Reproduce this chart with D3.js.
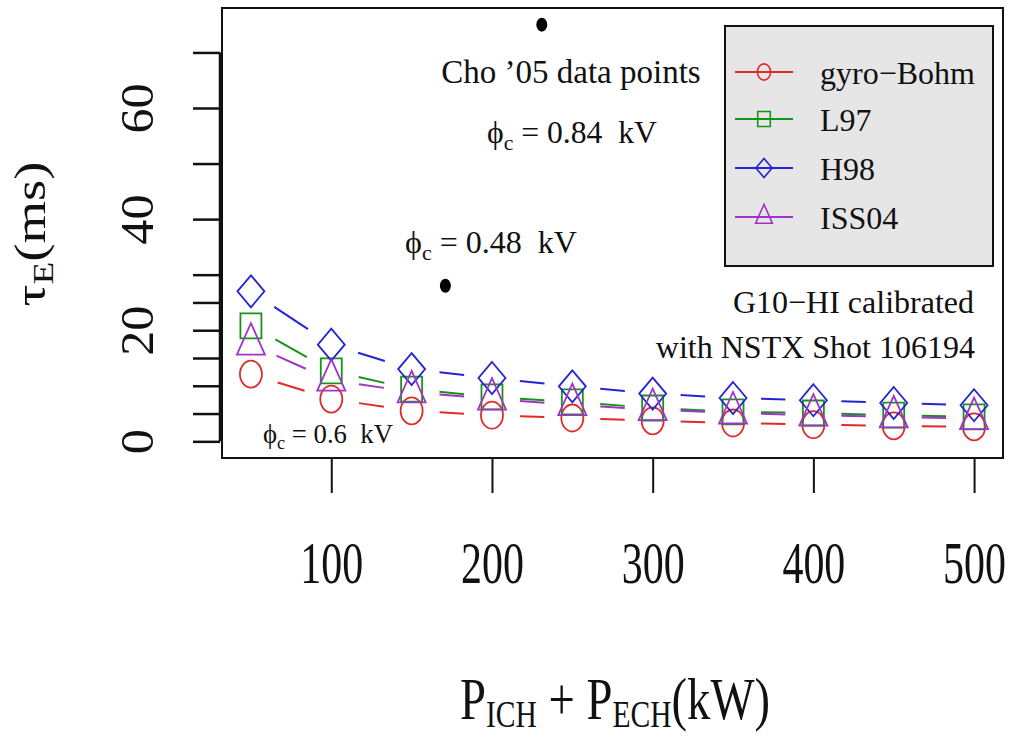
<!DOCTYPE html>
<html>
<head>
<meta charset="utf-8">
<script src="https://cdn.jsdelivr.net/npm/d3@7"></script>
<style>
  body { margin: 0; background: #fff; }
  svg { display: block; }
  text { white-space: pre; }
</style>
</head>
<body>
<svg id="chart" width="1013" height="737"></svg>
<script>
// Input power (kW) at which each confinement-time scaling was evaluated
const power = [50, 100, 150, 200, 250, 300, 350, 400, 450, 500];

// Energy confinement time tau_E (ms) for each scaling law
const gyroBohm = [12.1, 7.6, 5.5, 4.7, 4.2, 3.7, 3.3, 3.0, 2.8, 2.6];
const l97      = [20.8, 12.7, 9.4, 8.0, 7.1, 6.0, 5.3, 5.1, 4.7, 4.4];
const h98      = [27.0, 17.4, 13.0, 11.4, 9.9, 8.6, 7.8, 7.4, 6.9, 6.5];
const iss04    = [17.5, 11.0, 8.9, 7.6, 6.6, 5.7, 5.1, 4.7, 4.4, 4.1];

// Cho '05 measured points
const choPower = [171, 231];
const choTau   = [28, 75];

// Axis ticks
const xTicks = [100, 200, 300, 400, 500];
const yTicks = [0, 5, 10, 15, 20, 25, 30, 40, 50, 60, 70];
const yTickLabels = [0, 20, 40, 60];

const seriesNames  = ["gyro\u2212Bohm", "L97", "H98", "ISS04"];
const seriesValues = [gyroBohm, l97, h98, iss04];
const seriesColors = ["#e02a2a", "#16941a", "#2424d4", "#a034c8"];
const seriesShapes = ["circle", "square", "diamond", "triangle"];

const SERIF = "'Liberation Serif', 'Times New Roman', serif";
const svg = d3.select("#chart");

const x = d3.scaleLinear().domain([32, 518]).range([222, 1003]);
const y = d3.scaleLinear().domain([-3, 78]).range([458, 8]);

// Marker outlines; symbols are slightly taller than wide
function shapePath(shape, k) {
  switch (shape) {
    case "circle": {
      const rx = 11 * k, ry = 13.5 * k;
      return `M${-rx},0A${rx},${ry} 0 1,0 ${rx},0A${rx},${ry} 0 1,0 ${-rx},0Z`;
    }
    case "square": {
      const hx = 10.5 * k, hy = 12.5 * k;
      return `M${-hx},${-hy}H${hx}V${hy}H${-hx}Z`;
    }
    case "diamond": {
      const hx = 13.5 * k, hy = 16 * k;
      return `M0,${-hy}L${hx},0L0,${hy}L${-hx},0Z`;
    }
    case "triangle": {
      const a = 21 * k, b = 14 * k, c = 10.5 * k;
      return `M0,${-a}L${b},${c}L${-b},${c}Z`;
    }
  }
}

// Plot frame
svg.append("rect")
  .attr("x", x(32)).attr("y", y(78))
  .attr("width", x(518) - x(32)).attr("height", y(-3) - y(78))
  .attr("fill", "none").attr("stroke", "#111").attr("stroke-width", 2);

// X axis
const xAxis = svg.append("g")
  .attr("transform", `translate(0,${y(-3)})`)
  .call(d3.axisBottom(x).tickValues(xTicks).tickSize(35).tickSizeOuter(0));
xAxis.select(".domain").remove();
xAxis.selectAll(".tick line").attr("stroke", "#111").attr("stroke-width", 2);
xAxis.selectAll(".tick text")
  .attr("font-family", SERIF).attr("font-size", 60).attr("fill", "#111")
  .attr("y", 125).attr("dy", 0)
  .attr("transform", "scale(0.7,1)");
svg.append("line")
  .attr("x1", x(xTicks[0])).attr("x2", x(xTicks[xTicks.length - 1]))
  .attr("y1", y(-3)).attr("y2", y(-3))
  .attr("stroke", "#111").attr("stroke-width", 2);

// Y axis
const yAxis = svg.append("g")
  .attr("transform", "translate(220,0)")
  .call(d3.axisLeft(y).tickValues(yTicks).tickSize(27).tickSizeOuter(0)
    .tickFormat(d => yTickLabels.includes(d) ? d : ""));
yAxis.select(".domain").remove();
yAxis.selectAll(".tick line").attr("stroke", "#111").attr("stroke-width", 2.5);
yAxis.selectAll(".tick text")
  .attr("font-family", SERIF).attr("font-size", 46).attr("fill", "#111")
  .attr("text-anchor", "middle")
  .attr("x", 0).attr("y", -67).attr("dy", 0)
  .attr("transform", "rotate(-90) scale(1.09,1)");
svg.append("line")
  .attr("x1", 220).attr("x2", 220)
  .attr("y1", y(yTicks[0])).attr("y2", y(yTicks[yTicks.length - 1]))
  .attr("stroke", "#111").attr("stroke-width", 2.5);

// Series: broken connecting lines (gap around each marker) plus markers
const GAP = 28;
seriesValues.forEach((vals, si) => {
  const pts = power.map((p, i) => [x(p), y(vals[i])]);
  const g = svg.append("g");
  for (let i = 0; i < pts.length - 1; i++) {
    const [x0, y0] = pts[i], [x1, y1] = pts[i + 1];
    const dx = x1 - x0, dy = y1 - y0, len = Math.hypot(dx, dy);
    if (len <= 2 * GAP) continue;
    const ux = dx / len, uy = dy / len;
    g.append("line")
      .attr("x1", x0 + ux * GAP).attr("y1", y0 + uy * GAP)
      .attr("x2", x1 - ux * GAP).attr("y2", y1 - uy * GAP)
      .attr("stroke", seriesColors[si]).attr("stroke-width", 2);
  }
  g.selectAll("path.pt").data(pts).join("path")
    .attr("class", "pt")
    .attr("transform", d => `translate(${d[0]},${d[1]})`)
    .attr("d", shapePath(seriesShapes[si], 1))
    .attr("fill", "none").attr("stroke", seriesColors[si]).attr("stroke-width", 1.8);
});

// Cho '05 data points
svg.selectAll("ellipse.cho").data(choPower.map((p, i) => [p, choTau[i]])).join("ellipse")
  .attr("class", "cho")
  .attr("cx", d => x(d[0])).attr("cy", d => y(d[1]))
  .attr("rx", 5.5).attr("ry", 7).attr("fill", "#000");

// Text with optional subscripts, stretched horizontally to a target width
function richText(parent, parts, size, subSize, subDy) {
  const t = parent.append("text")
    .attr("font-family", SERIF).attr("font-size", size).attr("fill", "#111")
    .attr("text-anchor", "middle");
  let off = 0;
  parts.forEach(p => {
    const target = p.sub ? subDy : 0;
    const ts = t.append("tspan").text(p.t).attr("dy", target - off);
    if (p.sub) ts.attr("font-size", subSize);
    off = target;
  });
  return t;
}
function placeText(parts, opt) {
  const g = svg.append("g");
  const t = richText(g, parts, opt.size, opt.subSize || opt.size * 0.7, opt.subDy || opt.size * 0.2);
  const w = t.node().getComputedTextLength();
  const sx = opt.width ? opt.width / w : 1;
  const cx = opt.right !== undefined ? opt.right - (w * sx) / 2 : opt.cx;
  const rot = opt.rotate ? ` rotate(${opt.rotate})` : "";
  g.attr("transform", `translate(${cx},${opt.baseline})${rot} scale(${sx},1)`);
  return t;
}
const phi = "\u03D5";

placeText([{ t: "Cho \u201905 data points" }], { cx: 571, baseline: 83, size: 33 });
placeText([{ t: phi }, { t: "c", sub: true }, { t: " = 0.84  kV" }],
  { cx: 572, baseline: 143, size: 32, width: 170, subSize: 22, subDy: 7 });
placeText([{ t: phi }, { t: "c", sub: true }, { t: " = 0.48  kV" }],
  { cx: 491, baseline: 253, size: 32, width: 172, subSize: 22, subDy: 7 });
placeText([{ t: phi }, { t: "c", sub: true }, { t: " = 0.6  kV" }],
  { cx: 328, baseline: 443, size: 28, width: 130, subSize: 19, subDy: 6 });
placeText([{ t: "G10\u2212HI calibrated" }], { right: 974, baseline: 313, size: 32 });
placeText([{ t: "with NSTX Shot 106194" }], { right: 975, baseline: 358, size: 32 });

// Axis titles
placeText([{ t: "P" }, { t: "ICH", sub: true }, { t: " + P" }, { t: "ECH", sub: true }, { t: "(kW)" }],
  { cx: 615, baseline: 719, size: 60, width: 310, subSize: 38, subDy: 8 });
placeText([{ t: "\u03C4" }, { t: "E", sub: true }, { t: "(ms)" }],
  { cx: 45, baseline: 234, size: 44, width: 145, subSize: 30, subDy: 8, rotate: -90 });

// Legend
const legend = svg.append("g");
legend.append("rect")
  .attr("x", 725).attr("y", 26).attr("width", 268).attr("height", 240)
  .attr("fill", "#e6e6e6").attr("stroke", "#111").attr("stroke-width", 2);
const rowY = [72, 119, 168, 217];
seriesNames.forEach((name, i) => {
  const row = legend.append("g").attr("transform", `translate(0,${rowY[i]})`);
  row.append("line").attr("x1", 735).attr("x2", 793).attr("y1", 0).attr("y2", 0)
    .attr("stroke", seriesColors[i]).attr("stroke-width", 2);
  row.append("path").attr("transform", "translate(764,0)")
    .attr("d", shapePath(seriesShapes[i], 0.6))
    .attr("fill", "none").attr("stroke", seriesColors[i]).attr("stroke-width", 1.6);
  row.append("text").attr("x", 820).attr("y", 12)
    .attr("font-family", SERIF).attr("font-size", 32).attr("fill", "#111")
    .text(name);
});
</script>
</body>
</html>
